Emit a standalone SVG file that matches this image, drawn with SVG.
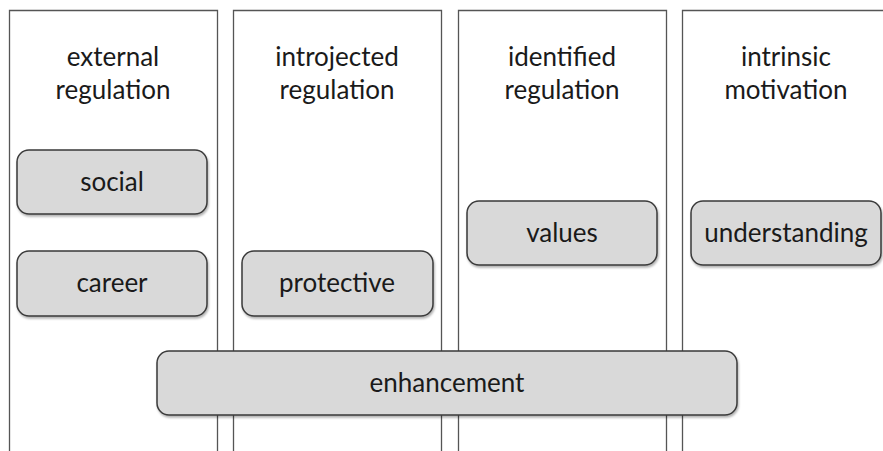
<svg xmlns="http://www.w3.org/2000/svg" width="883" height="451" viewBox="0 0 883 451">
<style>
.col{fill:#fff;stroke:#555;stroke-width:1.3}
.box{fill:#d9d9d9;stroke:#3a3a3a;stroke-width:1.5}
.t{font-family:Lato,"Open Sans",sans-serif;font-size:26px;fill:#1a1a1a;text-anchor:middle}
</style>
<defs>
<filter id="sh" x="-10%" y="-10%" width="130%" height="140%">
<feDropShadow dx="1" dy="2" stdDeviation="1.2" flood-color="#000" flood-opacity="0.3"/>
</filter>
</defs>
<rect width="883" height="451" fill="#fff"/>
<g id="col-external">
<path class="col" d="M9.5,452 V10.5 H217.5 V452"/>
<text class="t" x="113" y="66">external</text>
<text class="t" x="113" y="99">regulation</text>
</g>
<g id="col-introjected">
<path class="col" d="M233.5,452 V10.5 H441.5 V452"/>
<text class="t" x="337" y="66">introjected</text>
<text class="t" x="337" y="99">regulation</text>
</g>
<g id="col-identified">
<path class="col" d="M458.5,452 V10.5 H666.5 V452"/>
<text class="t" x="562" y="66">identified</text>
<text class="t" x="562" y="99">regulation</text>
</g>
<g id="col-intrinsic">
<path class="col" d="M682.5,452 V10.5 H890"/>
<text class="t" x="786" y="66">intrinsic</text>
<text class="t" x="786" y="99">motivation</text>
</g>
<g id="connectors"></g>
<g id="social">
<rect class="box" filter="url(#sh)" x="17" y="150" width="190" height="64" rx="12"/>
<text class="t" x="112" y="191">social</text>
</g>
<g id="career">
<rect class="box" filter="url(#sh)" x="17" y="251" width="190" height="65" rx="12"/>
<text class="t" x="112" y="292">career</text>
</g>
<g id="protective">
<rect class="box" filter="url(#sh)" x="242" y="251" width="191" height="65" rx="12"/>
<text class="t" x="337" y="292">protective</text>
</g>
<g id="values">
<rect class="box" filter="url(#sh)" x="467" y="201" width="190" height="64" rx="12"/>
<text class="t" x="562" y="242">values</text>
</g>
<g id="understanding">
<rect class="box" filter="url(#sh)" x="691" y="201" width="190" height="64" rx="12"/>
<text class="t" x="786" y="242">understanding</text>
</g>
<g id="enhancement">
<rect class="box" filter="url(#sh)" x="157" y="351" width="580" height="64" rx="12"/>
<text class="t" x="447" y="392">enhancement</text>
</g>
</svg>
